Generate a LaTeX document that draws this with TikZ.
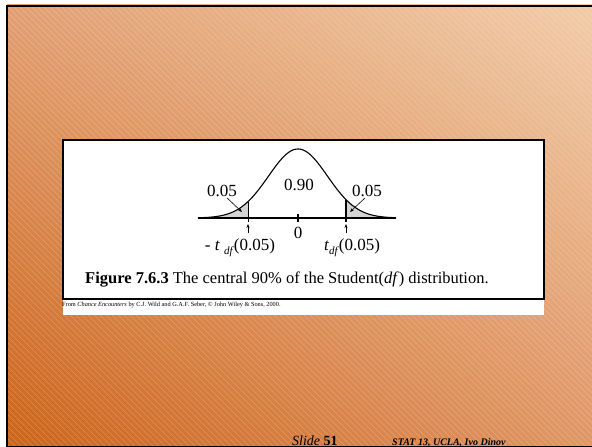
\documentclass[tikz,border=0pt]{standalone}
\usepackage{fontspec}
\setmainfont{Liberation Serif}
\usetikzlibrary{calc}
\usetikzlibrary{arrows.meta}
\usetikzlibrary{shadings}

\definecolor{slideLL}{RGB}{205,100,25}
\definecolor{slideLR}{RGB}{224,150,102}
\definecolor{slideUL}{RGB}{226,160,115}
\definecolor{slideUR}{RGB}{241,204,168}

% density of the bell curve, in picture points
\newcommand{\tdens}[1]{229+69*exp(-((#1-298)/29.5)^2/2)}

\begin{document}
\begin{tikzpicture}[x=1pt,y=1pt,
  hatch/.style={white,opacity=0.22,line width=0.6pt},
  frameline/.style={black,line width=2pt},
  curveline/.style={black,line width=1.1pt},
  tailfill/.style={fill=black!17},
  pointer/.style={-{Stealth[length=4pt,width=3pt]},line width=0.6pt},
  lbl/.style={font=\fontsize{17}{20}\selectfont,inner sep=0pt}]
\useasboundingbox (0,0) rectangle (592,447);

%% slide background
\fill[white] (0,0) rectangle (592,447);
\shade[upper left=slideUL,upper right=slideUR,lower left=slideLL,lower right=slideLR]
  (7,0) rectangle (592,442);
\begin{scope}
  \clip (7,0) rectangle (592,442);
  \foreach \s in {-450,-444,...,600}
    \draw[hatch] (\s,442) -- ++(442,-442);
\end{scope}
\draw[frameline] (7,0) -- (7,441) -- (592,441);
\draw[black,line width=1.5pt] (7,0.5) -- (592,0.5);

%% figure panel
\fill[white] (63,132) rectangle (544,148);
\draw[line width=2pt,fill=white] (63,148) rectangle (544,307);

\coordinate (axL) at (198,229);
\coordinate (axR) at (396,229);
\coordinate (cutL) at (248,229);
\coordinate (cutR) at (346,229);
\coordinate (mid) at (298,229);
\coordinate (topL) at (248,{\tdens{248}});
\coordinate (topR) at (346,{\tdens{346}});

% shaded tails
\fill[tailfill] (axL) -- plot[domain=198:248,samples=40] (\x,{\tdens{\x}}) -- (cutL) -- cycle;
\fill[tailfill] (cutR) -- plot[domain=346:396,samples=40] (\x,{\tdens{\x}}) -- (axR) -- cycle;

\draw[curveline] plot[domain=198:396,samples=160,smooth] (\x,{\tdens{\x}});
\draw[black,line width=2pt] (axL) -- (axR);
\draw[black,line width=1pt] ($(cutL)+(0,-4)$) -- (topL);
\draw[black,line width=2pt] ($(cutR)+(0,-4)$) -- (topR);
\draw[black,line width=2pt] ($(mid)+(0,-4)$) -- ($(mid)+(0,4)$);

% labels
\node[lbl] (pL) at (222,256) {0.05};
\node[lbl] (pC) at (299,262) {0.90};
\node[lbl] (pR) at (367,256) {0.05};
\node[lbl] (zero) at (298,214) {0};
\node[lbl] (tL) at (240,199) {- \textit{t} \raisebox{-0.45ex}{\fontsize{11}{12}\selectfont\textit{df}}(0.05)};
\node[lbl] (tR) at (352,199) {\textit{t}\raisebox{-0.45ex}{\fontsize{11}{12}\selectfont\textit{df}}(0.05)};

\coordinate (tipL) at (242,235);
\coordinate (tipR) at (350,235);
\draw[pointer] ($(pL.south)+(5,-1)$) -- (tipL);
\draw[pointer] ($(pR.south)+(-2,-1)$) -- (tipR);

\coordinate (upL) at (248,214);
\coordinate (upR) at (346,214);
\draw[pointer] (upL) -- ++(0,9);
\draw[pointer] (upR) -- ++(0,9);

\node[anchor=west,font=\fontsize{16.5}{20}\selectfont,inner sep=0pt] (cap) at (85,167)
  {\textbf{Figure 7.6.3} The central 90\% of the Student(\textit{df}) distribution.};
\node[anchor=west,font=\fontsize{6.3}{7}\selectfont,inner sep=0pt] (src) at (62,142)
  {From \textit{Chance Encounters} by C.J. Wild and G.A.F. Seber, © John Wiley \& Sons, 2000.};

%% footer
\node[anchor=base west,font=\fontsize{14}{14}\selectfont,inner sep=0pt] (slide) at (292,1.5)
  {\textit{Slide} \textbf{51}};
\node[anchor=base west,font=\fontsize{10}{10}\selectfont\bfseries\itshape,inner sep=0pt] (stat) at (392,1)
  {STAT 13, UCLA, Ivo Dinov};
\end{tikzpicture}
\end{document}
